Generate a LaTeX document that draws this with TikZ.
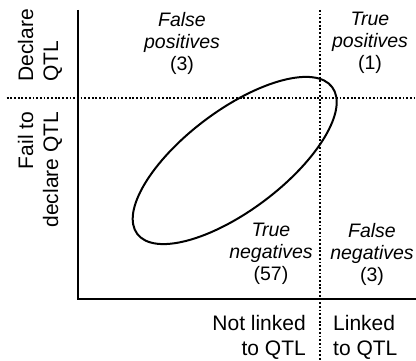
\documentclass[tikz,border=0pt]{standalone}
\usepackage{fontspec}
\setmainfont{Liberation Sans}
\tikzset{
	cell/.style={align=center, inner sep=0pt, font=\fontsize{19.5}{22}\selectfont\itshape},
	axislabel/.style={inner sep=0pt, font=\fontsize{21}{25}\selectfont},
	divider/.style={line width=1.8pt, dash pattern=on 1.8pt off 1.9pt},
}

\begin{document}
\begin{tikzpicture}[x=1pt, y=1pt]
	%%%%% START %%%%%
	\useasboundingbox (0, 0) rectangle (416, 361);
	
	\coordinate (top) at (78.3, 351);
	\coordinate (origin) at (78.3, 61.7);
	\coordinate (right) at (416, 61.7);
	
	\draw[divider] (6.7, 263.3) -- (416, 263.3);
	\draw[divider] (320, 351) -- (320, 0);
	\draw[line width=2pt] (top) -- (origin) -- (right);
	\draw[line width=2pt, rotate around={37:(234.7, 200.5)}] (234.7, 200.5) ellipse (122pt and 50pt);
	
	\node[cell] (falsepos) at (182, 318) {False\\positives\\\upshape(3)};
	\node[cell] (truepos) at (370, 318) {True\\positives\\\upshape(1)};
	\node[cell] (trueneg) at (271, 107) {True\\negatives\\\upshape(57)};
	\node[cell] (falseneg) at (372, 107) {False\\negatives\\\upshape(3)};
	
	\node[axislabel, rotate=90, align=left, anchor=west] (declare) at (40, 279.3) {Declare\\QTL};
	\node[axislabel, rotate=90, align=right, anchor=east] (fail) at (40, 249.3) {Fail to\\declare QTL};
	\node[axislabel, align=right, anchor=north east] (notlinked) at (306, 46.3) {Not linked\\to QTL};
	\node[axislabel, align=left, anchor=north west] (linked) at (333, 46.3) {Linked\\to QTL};
	
	%%%%% END %%%%%
\end{tikzpicture}
\end{document}
